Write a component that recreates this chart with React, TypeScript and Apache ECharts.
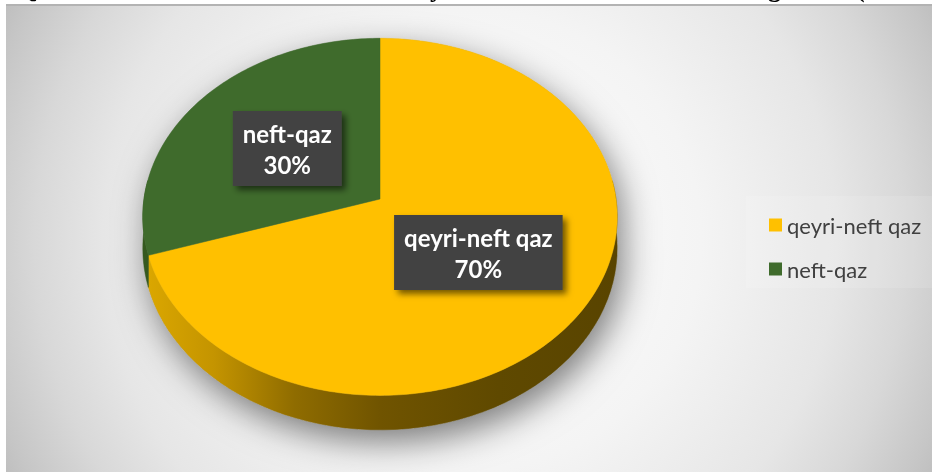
import React, { useEffect, useRef } from "react";
import * as echarts from "echarts";

// ---- data ----
const categories = ["qeyri-neft qaz", "neft-qaz"];
const values = [70, 30];
const sliceColors = ["#FFC000", "#3F6B2C"];
const titleFragments = ["Q", "y", "g", "("];

// ---- geometry / style (not data) ----
const CX = 380;
const CY = 199;
const A = 236;
const S = 0.749;
const K = 0.1;
const H = 31;
const DEG = Math.PI / 180;
const fragX = [17, 430, 768, 856];

function pt(thetaDeg: number, r = 1, drop = 0): number[] {
  const t = thetaDeg * DEG;
  const c = Math.cos(t);
  const s = Math.sin(t);
  const den = 1 + K * r * c;
  return [CX + (A * r * s) / den, CY - (A * S * r * c) / den + drop / den];
}

const sideFills = [
  {
    type: "linear",
    x: 143,
    y: 0,
    x2: 617,
    y2: 0,
    global: true,
    colorStops: [
      { offset: 0, color: "#DCA800" },
      { offset: 0.15, color: "#C49400" },
      { offset: 0.32, color: "#8F6C00" },
      { offset: 0.5, color: "#705400" },
      { offset: 0.75, color: "#5F4900" },
      { offset: 1, color: "#594400" },
    ],
  },
  {
    type: "linear",
    x: 143,
    y: 0,
    x2: 380,
    y2: 0,
    global: true,
    colorStops: [
      { offset: 0, color: "#35591F" },
      { offset: 1, color: "#26401A" },
    ],
  },
];

export default function App() {
  const ref = useRef<HTMLDivElement>(null);
  useEffect(() => {
    const chart = echarts.init(ref.current as HTMLDivElement, null, { renderer: "svg" });
    const total = values.reduce((a, b) => a + b, 0);
    const starts: number[] = [];
    let acc = 0;
    values.forEach((v) => {
      starts.push((acc / total) * 360);
      acc += v;
    });

    const sliceSeries = categories.map((name, i) => ({
      type: "custom",
      name,
      coordinateSystem: "none",
      silent: true,
      itemStyle: { color: sliceColors[i] },
      data: [[values[i]]],
      z: 2,
      renderItem: (params: any, api: any) => {
        const v = api.value(0);
        const a0 = starts[i];
        const a1 = a0 + (v / total) * 360;
        const children: any[] = [];
        if (i === 0) {
          const outline: number[][] = [];
          for (let t = 90; t <= 270; t += 2) outline.push(pt(t, 1, H));
          for (let t = 270; t <= 450; t += 2) outline.push(pt(t));
          children.push({
            type: "polygon",
            shape: { points: outline },
            style: {
              fill: "#999",
              shadowBlur: 34,
              shadowColor: "rgba(0,0,0,0.5)",
              shadowOffsetX: 6,
              shadowOffsetY: 12,
            },
          });
        }
        const s0 = Math.max(a0, 84);
        const s1 = Math.min(a1, 276);
        if (s1 > s0) {
          const top: number[][] = [];
          const bot: number[][] = [];
          for (let t = s0; t <= s1 + 0.001; t += (s1 - s0) / 60) {
            top.push(pt(t));
            bot.push(pt(t, 1, H));
          }
          children.push({
            type: "polygon",
            shape: { points: top.concat(bot.reverse()) },
            style: { fill: sideFills[i], stroke: sideFills[i], lineWidth: 0.5 },
          });
        }
        const face: number[][] = [[CX, CY]];
        const n = Math.max(8, Math.round((a1 - a0) / 1));
        for (let k = 0; k <= n; k++) face.push(pt(a0 + ((a1 - a0) * k) / n));
        children.push({
          type: "polygon",
          shape: { points: face },
          style: { fill: sliceColors[i], stroke: sliceColors[i], lineWidth: 0.5 },
        });
        return { type: "group", children };
      },
    }));

    const labelSeries = {
      type: "custom",
      coordinateSystem: "none",
      silent: true,
      z: 5,
      data: values.map((v) => [v]),
      renderItem: (params: any, api: any) => {
        const i = params.dataIndex;
        const v = api.value(0);
        const mid = starts[i] + ((v / total) * 360) / 2;
        const p = pt(mid, 0.5);
        const pct = Math.round((v / total) * 100) + "%";
        return {
          type: "text",
          x: p[0],
          y: p[1],
          style: {
            text: categories[i] + "\n" + pct,
            align: "center",
            verticalAlign: "middle",
            fill: "#FFFFFF",
            fontFamily: "Lato",
            fontWeight: "bold",
            fontSize: 24,
            lineHeight: 31,
            backgroundColor: "#424242",
            padding: [7, 10, 6, 10],
            shadowBlur: 6,
            shadowColor: "rgba(0,0,0,0.55)",
            shadowOffsetX: 4,
            shadowOffsetY: 4,
          },
        };
      },
    };

    const option: any = {
      animation: false,
      graphic: [
        {
          type: "rect",
          z: -10,
          silent: true,
          shape: { x: 6, y: 6, width: 926, height: 466 },
          style: {
            fill: {
              type: "radial",
              x: 470,
              y: 240,
              r: 525,
              global: true,
              colorStops: [
                { offset: 0, color: "#FFFFFF" },
                { offset: 0.44, color: "#F4F4F4" },
                { offset: 0.7, color: "#E6E6E6" },
                { offset: 0.83, color: "#D8D8D8" },
                { offset: 0.95, color: "#C6C6C6" },
                { offset: 1, color: "#BDBDBD" },
              ],
            },
          },
        },
        {
          type: "rect",
          z: -9,
          silent: true,
          shape: { x: 746, y: 196, width: 186, height: 92 },
          style: { fill: "rgba(255,255,255,0.12)" },
        },
        {
          type: "rect",
          z: 10,
          silent: true,
          shape: { x: 6, y: 4, width: 926, height: 2 },
          style: { fill: "#B3B3B3" },
        },
        ...titleFragments.map((t, i) => ({
          type: "text",
          z: 9,
          silent: true,
          x: fragX[i],
          y: 1,
          style: {
            text: t,
            fontFamily: "Liberation Serif",
            fontWeight: "bold",
            fontSize: 26,
            fill: "#000",
            verticalAlign: "bottom",
          },
        })),
      ],
      legend: {
        orient: "vertical",
        left: 764,
        top: 209,
        itemWidth: 13,
        itemHeight: 13,
        itemGap: 22,
        icon: "rect",
        data: categories,
        selectedMode: false,
        textStyle: { fontFamily: "Lato", fontSize: 22, color: "#404040", lineHeight: 22 },
      },
      series: [...sliceSeries, labelSeries],
    };
    chart.setOption(option);
    return () => chart.dispose();
  }, []);
  return (
    <div
      ref={ref}
      style={{ position: "fixed", left: 0, top: 0, width: 932, height: 472 }}
    />
  );
}
